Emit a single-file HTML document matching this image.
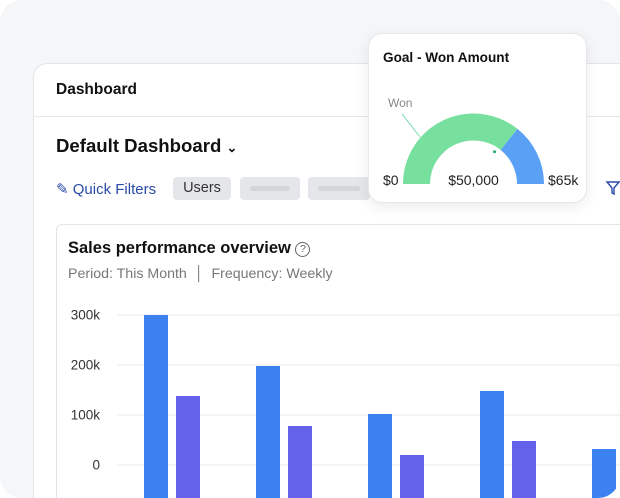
<!DOCTYPE html>
<html><head><meta charset="utf-8"><style>
*{box-sizing:border-box;margin:0;padding:0}
body{width:620px;height:498px;overflow:hidden;background:#fff;font-family:"Liberation Sans",sans-serif;position:relative}
.bg{position:absolute;left:0;top:0;width:620px;height:498px;background:#f5f6f8;border-radius:22px;overflow:hidden}
.main{position:absolute;left:33px;top:63px;width:587px;height:435px;background:#fff;border:1px solid #e3e5e8;border-right:none;border-bottom:none;border-radius:14px 0 0 0}
.abs{position:absolute}
</style></head><body>
<div class="bg">
<div class="main"></div>
<div class="abs" style="left:56px;top:81px;font-size:15.5px;font-weight:bold;color:#111">Dashboard</div>
<div class="abs" style="left:34px;top:116px;width:586px;height:1px;background:#e5e7eb"></div>
<div class="abs" style="left:56px;top:135px;font-size:18.6px;font-weight:bold;color:#111">Default Dashboard <span style="font-size:13px">&#8964;</span></div>
<div class="abs" style="left:56px;top:180px;font-size:15px;color:#2b4aa8">&#9998; Quick Filters</div>
<div class="abs" style="left:173px;top:177px;width:58px;height:23px;background:#e4e6ea;border-radius:4px;font-size:14.5px;color:#333;text-align:center;line-height:23px">Users</div>
<div class="abs" style="left:240px;top:177px;width:60px;height:23px;background:#e4e6ea;border-radius:4px"><div style="margin:9px 10px;height:5px;background:#d3d5d9;border-radius:3px"></div></div>
<div class="abs" style="left:308px;top:177px;width:62px;height:23px;background:#e4e6ea;border-radius:4px"><div style="margin:9px 10px;height:5px;background:#d3d5d9;border-radius:3px"></div></div>
<svg class="abs" style="left:604px;top:179px" width="16" height="16"><path d="M3 3h12l-5 6v6l-2-1v-5z" fill="none" stroke="#2b4aa8" stroke-width="1.4"/></svg>
<div class="abs" style="left:56px;top:224px;width:564px;height:274px;border:1px solid #e3e5e8;border-right:none;border-bottom:none;border-radius:6px 0 0 0;background:#fff"></div>
<div class="abs" style="left:68px;top:239px;font-size:16.5px;font-weight:bold;color:#111">Sales performance overview <span style="display:inline-block;width:15px;height:15px;border:1.3px solid #666;border-radius:50%;font-size:10.5px;font-weight:normal;text-align:center;line-height:13px;color:#666;vertical-align:1px">?</span></div>
<div class="abs" style="left:68px;top:266px;font-size:14.2px;color:#777">Period: This Month &nbsp;│&nbsp; Frequency: Weekly</div>
<svg id="chart" class="abs" style="left:0;top:0" width="620" height="498"></svg>

<div class="abs" style="left:368px;top:33px;width:219px;height:170px;background:#fff;border:1px solid #e6e7ea;border-radius:14px;box-shadow:0 4px 14px rgba(0,0,0,0.08)"></div>
<div class="abs" style="left:383px;top:50px;font-size:13.6px;font-weight:bold;color:#111">Goal - Won Amount</div>
<svg id="gauge" class="abs" style="left:0;top:0" width="620" height="498"></svg>
</div>
<script>
const NS='http://www.w3.org/2000/svg';
function mk(p,t,a){const e=document.createElementNS(NS,t);for(const k in a)e.setAttribute(k,a[k]);p.appendChild(e);return e;}
// bar chart data
const categories=['W1','W2','W3','W4','W5'];
const seriesA=[300000,198000,102000,148000,32000];
const seriesB=[138000,78000,20000,48000,null];
const tickValues=[0,100000,200000,300000];
const tickLabels=['0','100k','200k','300k'];
const svg=document.getElementById('chart');
const y=v=>465-v/100000*50;
const x=i=>144+i*112;
const bottom=498;
tickValues.forEach((t,i)=>{
 const l=mk(svg,'line',{x1:117,x2:620,y1:y(t),y2:y(t),stroke:'#e8e9ec','stroke-width':1});
 
 
 const tx=mk(svg,'text',{x:100,y:y(t)+4.5,'text-anchor':'end','font-size':13.5,fill:'#333','font-family':'Liberation Sans'});
 tx.textContent=tickLabels[i];
 
 
});
categories.forEach((c,i)=>{
 const a=mk(svg,'rect',{x:x(i),y:y(seriesA[i]),width:24,height:bottom-y(seriesA[i]),fill:'#3b82f0'});
 
 
 if(seriesB[i]!=null){
  const b=mk(svg,'rect',{x:x(i)+32,y:y(seriesB[i]),width:24,height:bottom-y(seriesB[i]),fill:'#6462ea'});
  
  
 }
});
// gauge data
const gaugeValue=50000;
const gaugeScaleMax=70000;
const gaugeLabels=['$0','$50,000','$65k'];
const g=document.getElementById('gauge');
const cx=473.5,cy=184,R=70.5,r=43.5;
function pt(rad,frac){const an=Math.PI*(1-frac);return [cx+rad*Math.cos(an),cy-rad*Math.sin(an)];}
function arc(f0,f1,col,name){
 const [x0,y0]=pt(R,f0),[x1,y1]=pt(R,f1),[x2,y2]=pt(r,f1),[x3,y3]=pt(r,f0);
 const p=mk(g,'path',{d:`M${x0} ${y0}A${R} ${R} 0 0 1 ${x1} ${y1}L${x2} ${y2}A${r} ${r} 0 0 0 ${x3} ${y3}Z`,fill:col});
 
 
}
const f=gaugeValue/gaugeScaleMax;
arc(0,f,'#77e09e','gauge-won-arc');
arc(f,1,'#5aa0f5','gauge-remaining-arc');
const [dx,dy]=pt(r-5,f-0.03);
mk(g,'circle',{cx:dx,cy:dy,r:1.5,fill:'#2aa870'});
const ln=mk(g,'line',{x1:402,y1:114,x2:420,y2:137,stroke:'#77d8b0','stroke-width':1});


const won=mk(g,'text',{x:388,y:107,'font-size':12,fill:'#888','font-family':'Liberation Sans'});won.textContent='Won';


[[383,'start'],[473.5,'middle'],[548,'start']].forEach((p,i)=>{
 const t=mk(g,'text',{x:p[0],y:185,'text-anchor':p[1],'font-size':14,fill:'#222','font-family':'Liberation Sans'});
 t.textContent=gaugeLabels[i];
 
 
});
</script>
</body></html>
